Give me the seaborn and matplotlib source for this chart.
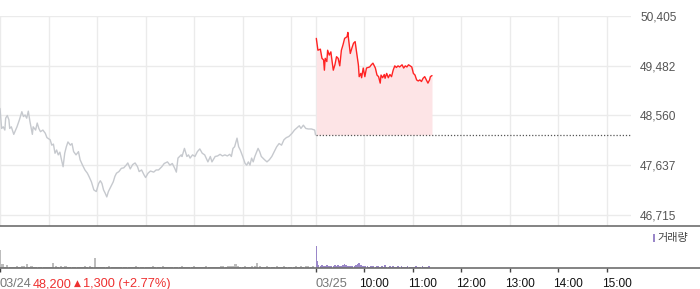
import numpy as np
import pandas as pd
import seaborn as sns
import matplotlib
matplotlib.use("Agg")
import matplotlib.pyplot as plt
from matplotlib.patches import Rectangle
from matplotlib.transforms import offset_copy

# ---------------- data ----------------
# minutes since 09:00 of 03/24 (03/25 09:00 = 390)
day1_min = [0, 2, 4, 6, 7, 9, 11, 12, 14, 17, 21, 24, 27, 29, 31, 33, 35, 37, 40, 41,
            44, 46, 48, 50, 53, 56, 58, 62, 64, 66, 68, 70, 72, 74, 76, 78, 80, 82, 84, 87,
            89, 91, 94, 97, 99, 102, 105, 108, 110, 113, 116, 119, 122, 124, 126, 128, 130, 132, 134, 137,
            140, 142, 144, 147, 150, 153, 156, 158, 161, 164, 167, 170, 172, 175, 178, 180, 183, 186, 190, 193,
            196, 200, 203, 207, 210, 213, 216, 218, 220, 224, 225, 228, 231, 233, 235, 238, 241, 244, 247, 250,
            253, 257, 260, 262, 266, 269, 272, 275, 278, 281, 284, 286, 288, 290, 293, 295, 297, 300, 303, 305,
            307, 309, 311, 313, 315, 319, 321, 323, 327, 330, 333, 336, 339, 342, 345, 348, 351, 354, 357, 361,
            364, 367, 370, 372, 375, 378, 381, 385, 389, 390]
day1_price = [48690, 48320, 48350, 48290, 48510, 48560, 48480, 48320, 48350, 48210, 48350, 48480, 48630, 48540, 48570, 48510, 48640, 48450, 48210, 48350,
              48290, 48420, 48320, 48260, 48290, 48230, 48150, 48110, 48010, 48030, 47860, 47920, 47830, 47880, 47740, 47610, 47860, 47980, 48070, 48010,
              48040, 47890, 47830, 47890, 47740, 47640, 47550, 47490, 47430, 47330, 47180, 47150, 47300, 47350, 47300, 47180, 47120, 47050, 47150, 47240,
              47330, 47430, 47490, 47520, 47580, 47590, 47640, 47680, 47570, 47650, 47680, 47610, 47520, 47550, 47460, 47410, 47490, 47530, 47510, 47550,
              47550, 47610, 47670, 47700, 47640, 47670, 47580, 47510, 47770, 47830, 47800, 47950, 47800, 47830, 47770, 47830, 47800, 47890, 47940, 47860,
              47830, 47700, 47800, 47700, 47800, 47810, 47840, 47810, 47830, 47810, 47840, 47800, 47950, 47980, 48140, 47980, 47920, 47800, 47670, 47640,
              47700, 47640, 47770, 47700, 47800, 47950, 47890, 47800, 47740, 47700, 47740, 47800, 47890, 47980, 48040, 48010, 48110, 48150, 48170, 48230,
              48290, 48330, 48370, 48320, 48380, 48320, 48310, 48310, 48290, 48200]

day2_min = [391, 393, 396, 398, 400, 401, 402, 404, 405, 407, 409, 410, 412, 414, 416, 418, 420, 422, 424, 426,
            429, 430, 431, 433, 435, 437, 439, 441, 443, 444, 446, 447, 449, 451, 453, 455, 457, 459, 461, 464,
            466, 468, 470, 471, 473, 475, 476, 478, 480, 482, 484, 486, 488, 490, 492, 494, 497, 499, 501, 503,
            505, 507, 509, 511, 513, 515, 517, 519, 521, 523, 525, 527, 529, 531, 532, 534]
day2_price = [49990, 49770, 49790, 49620, 49590, 49400, 49620, 49560, 49770, 49680, 49740, 49620, 49400, 49500, 49650, 49620, 49480, 49770, 49870, 49990,
              50020, 50100, 49960, 49710, 49810, 49900, 49930, 49710, 49500, 49280, 49340, 49260, 49440, 49280, 49440, 49450, 49460, 49500, 49530, 49440,
              49310, 49280, 49160, 49310, 49260, 49320, 49250, 49340, 49260, 49320, 49280, 49400, 49480, 49450, 49480, 49460, 49500, 49440, 49480, 49460,
              49500, 49480, 49460, 49340, 49310, 49220, 49200, 49220, 49190, 49250, 49280, 49220, 49160, 49220, 49280, 49300]

prev_close = 48200

# volume (thousand shares); day 1 sampled every 3 minutes from 09:00
vol1 = [18, 4, 1.5, 3, 1.5, 1.2, 1.5, 2, 1.2, 1.8, 2, 4, 1.2, 2.5, 1, 1.2, 1.5, 1.2, 1.5, 1.3,
        1, 1.5, 5, 1.8, 1.5, 2, 1.2, 1.8, 1.5, 1.2, 1, 1.5, 1.2, 1.4, 1, 1.8, 1.2, 2, 1.5, 10,
        1.5, 1.2, 1, 1.5, 1.2, 1.8, 1, 1.2, 1.5, 1, 1.2, 1.5, 1, 1.2, 1.5, 1, 1.8, 1.2, 1, 1.3,
        1.5, 1, 1.2, 1.6, 1, 1.2, 1.5, 1.8, 1, 1.3, 1.5, 1.2, 1, 1.4, 1.2, 1.8, 1, 1.5, 1.2, 1.3,
        1.6, 1.2, 1.4, 1, 1.5, 1.8, 1.2, 1.5, 1.3, 1.2, 1.5, 1.8, 2, 1.5, 1.6, 1.8, 2.2, 4, 2, 1.5,
        1.2, 1.8, 1.3, 1.5, 1.6, 2, 5, 2.5, 1.5, 1.3, 1.8, 1.2, 1.5, 1.3, 1.6, 1.4, 1.2, 1.8, 1.5, 1.3,
        1.5, 1.2, 1.6, 1.4, 2, 1.5, 2.2, 1.6, 1.4, 1.8]
vol1_close = 36
vol2_open = [22, 7, 5, 3.5]          # 09:01 - 09:04
vol2 = [2.5, 3, 2.5, 2, 2.8, 2.2, 2.5, 2, 2.3, 2.8, 2, 3, 2.5, 2.2, 3, 4, 3.5, 2.5, 2, 1.8,
        2, 2.5, 3, 4, 5, 3.5, 2.5, 2, 1.8, 2, 1.5, 2, 1.8, 2.2, 1.5, 2.5, 1.8, 1.5, 2, 1.5,
        2.8, 1.5, 1.2, 1.8, 1.3, 2, 1.5, 1.2, 2.2, 1.5, 1.8, 1.2, 1.5, 1.3, 1.8, 1.2, 1, 1.5,
        1.3, 1.8, 1, 1.5, 1.2, 1.8, 1, 1.5, 1.2, 1.6]   # every 2 minutes from 09:06

ytick_vals = [46715, 47637, 48560, 49482, 50405]
ytick_labels = ["46,715", "47,637", "48,560", "49,482", "50,405"]
hour_ticks = [450, 510, 570, 630, 690, 750]
hour_labels = ["10:00", "11:00", "12:00", "13:00", "14:00", "15:00"]
grid_x = [0, 60, 120, 180, 240, 300, 360, 390, 450, 510, 570, 630, 690, 750]

# ---------------- style ----------------
sns.set_theme(style="white")
plt.rcParams["font.family"] = ["Liberation Sans", "Noto Sans CJK KR", "DejaVu Sans"]

W, H = 700, 289
fig = plt.figure(figsize=(W / 100, H / 100), dpi=100)

def fx(px):
    return px / W

def fy(py):
    return 1 - py / H

plot_right = 631
ax = fig.add_axes([0, fy(226), fx(plot_right), fy(15.5) - fy(226)])
axv = fig.add_axes([0, fy(268), 1.0, fy(226) - fy(268)])

XMAX = 780
GRAY_LINE = "#c6c9ce"
RED = "#ff2323"
FILL = "#fde4e6"
PURPLE = "#9a87c9"
VGRAY = "#bdbdbd"

# price panel
d1 = pd.DataFrame({"t": day1_min, "p": day1_price})
d2 = pd.DataFrame({"t": day2_min, "p": day2_price})
ax.fill_between(d2["t"], d2["p"], prev_close, color=FILL, lw=0, zorder=1)
ax.hlines(prev_close, 390, XMAX, colors="#555555", linestyles=(0, (1, 1.5)), lw=0.9, zorder=2)
sns.lineplot(data=d1, x="t", y="p", ax=ax, color=GRAY_LINE, lw=1.0, zorder=3, estimator=None)
sns.lineplot(data=d2, x="t", y="p", ax=ax, color=RED, lw=1.0, zorder=4, estimator=None)

ax.set_xlim(0, XMAX)
ax.set_ylim(46511, 50414)
ax.set_xticks(grid_x)
ax.set_yticks(ytick_vals)
ax.set_yticklabels(ytick_labels)
ax.yaxis.tick_right()
ax.tick_params(axis="y", length=0, pad=6.5, labelsize=8.6, labelcolor="#555555")
ax.tick_params(axis="x", length=0, labelbottom=False)
ax.grid(True, color="#ebebeb", lw=1.0)
ax.set_axisbelow(True)
ax.set_xlabel("")
ax.set_ylabel("")
for s in ax.spines.values():
    s.set_visible(False)

# volume panel
t1 = np.arange(len(vol1)) * 3
axv.bar(t1, vol1, width=2.7, color=VGRAY, align="center", lw=0)
axv.bar([389.3], [vol1_close], width=1.0, color=VGRAY, lw=0)
t2o = 391 + np.arange(len(vol2_open))
axv.bar(t2o, vol2_open, width=0.95, color=PURPLE, lw=0)
t2 = 396 + np.arange(len(vol2)) * 2
axv.bar(t2, vol2, width=1.85, color=PURPLE, lw=0)

axv.set_xlim(0, XMAX * W / plot_right)
axv.set_ylim(0, 42)
axv.set_yticks([])
axv.set_xticks([0, 390] + hour_ticks)
axv.set_xticklabels([])
axv.tick_params(axis="x", direction="out", length=3.2, width=1, color="#444444", bottom=True)
for k in ["left", "right"]:
    axv.spines[k].set_visible(False)
for k in ["top", "bottom"]:
    axv.spines[k].set_visible(True)
    axv.spines[k].set_color("#6e6e6e")
    axv.spines[k].set_linewidth(1.2)

# x labels
ybase = fy(287.2)
fs = 8.6
fs_date = 9.2
blend = matplotlib.transforms.blended_transform_factory(axv.transData, fig.transFigure)
fig.text(fx(0), ybase, "03/24", color="#777777", fontsize=fs_date, va="baseline", ha="left")
fig.text(fx(33), ybase, "48,200", color="#ee3030", fontsize=fs_date, va="baseline", ha="left")
fig.text(fx(74), ybase + 0.003, "\u25b2", color="#ee3030", fontsize=6.5, va="baseline", ha="left",
         family=["DejaVu Sans"])
fig.text(fx(83), ybase, "1,300 (+2.77%)", color="#ee3030", fontsize=fs_date, va="baseline", ha="left")
fig.text(390, ybase, "03/25", color="#777777", fontsize=fs_date, va="baseline", ha="left", transform=blend)
blend_off = offset_copy(blend, fig=fig, x=-5, y=0, units="dots")
for tk, lb in zip(hour_ticks, hour_labels):
    fig.text(tk, ybase, lb, color="#111111", fontsize=fs, va="baseline", ha="left", transform=blend_off)

# legend
fig.add_artist(Rectangle((fx(652.5), fy(242)), fx(2.5), 8 / H, transform=fig.transFigure,
                         color=PURPLE, lw=0))
fig.text(fx(657), fy(238), "거래량", color="#444444", fontsize=8.0, va="center", ha="left",
         family=["Noto Sans CJK KR"])

fig.savefig("out.png", dpi=100)
